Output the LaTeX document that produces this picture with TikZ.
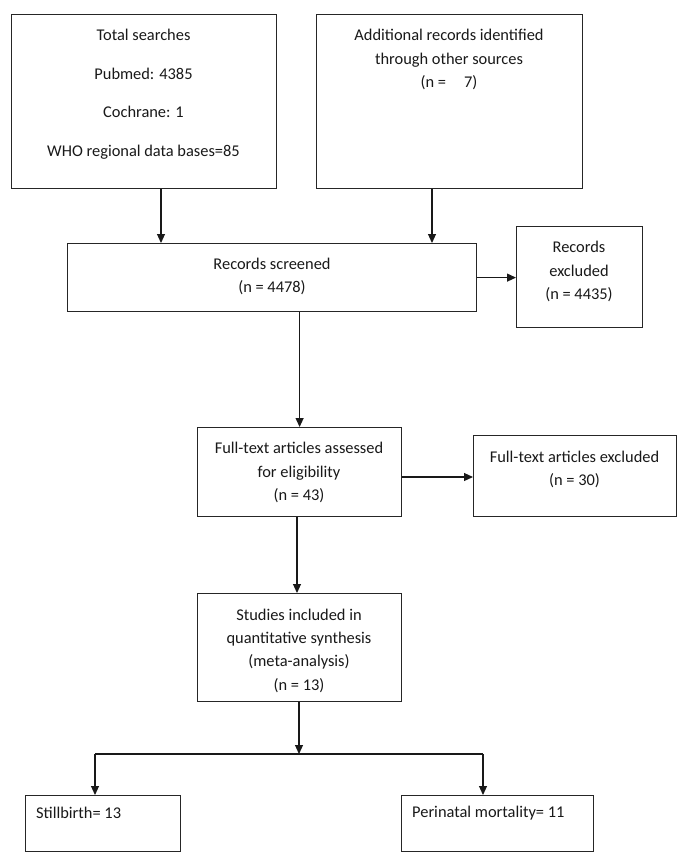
\documentclass[tikz,border=0pt]{standalone}
\usepackage{fontspec}
\setmainfont{Carlito}
\usetikzlibrary{arrows.meta}
\begin{document}
\begin{tikzpicture}[x=1pt,y=-1pt,
  box/.style={draw=black!85, line width=1.2pt, inner sep=0pt, anchor=north west},
  txt/.style={align=center, inner sep=0pt, text=black!90, font=\fontsize{16.4}{23.3}\selectfont},
  arr/.style={draw=black!90, line width=1.1pt, -{Triangle[length=9pt,width=8pt]}},
  ln/.style={draw=black!90, line width=1.1pt}]
\useasboundingbox (0,0) rectangle (685,857);
\fill[white] (0,0) rectangle (685,857);
% boxes
\node[box, minimum width=265pt, minimum height=174pt] (b1) at (11,14) {};
\node[box, minimum width=266pt, minimum height=174pt] (b2) at (316,14) {};
\node[box, minimum width=409pt, minimum height=68pt] (scr) at (67,243) {};
\node[box, minimum width=126pt, minimum height=101pt] (exc) at (516,226) {};
\node[box, minimum width=204pt, minimum height=89pt] (ass) at (197,427) {};
\node[box, minimum width=203pt, minimum height=81pt] (fte) at (473,435) {};
\node[box, minimum width=204pt, minimum height=108pt] (st) at (197,593) {};
\node[box, minimum width=155pt, minimum height=56pt] (sb) at (25,795) {};
\node[box, minimum width=192pt, minimum height=56pt] (pm) at (401,795) {};
% texts
\node[txt] (t1) at (143.5,94) {Total searches\\[15.2pt] Pubmed: 4385\\[15.2pt] Cochrane: 1\\[15.2pt] WHO regional data bases=85};
\node[txt] (t2) at (449,59.5) {Additional records identified\\ through other sources\\ (n =\hspace{1.1em}7)};
\node[txt] (t3) at (272,276.5) {Records screened\\ (n = 4478)};
\node[txt] (t4) at (579,271.5) {Records\\ excluded\\ (n = 4435)};
\node[txt] (t5) at (299,472.5) {Full-text articles assessed\\ for eligibility\\ (n = 43)};
\node[txt] (t6) at (574.5,469.5) {Full-text articles excluded\\ (n = 30)};
\node[txt] (t7) at (299,650.5) {Studies included in\\ quantitative synthesis\\ (meta-analysis)\\ (n = 13)};
\node[txt, anchor=west] (t8) at (36,813) {Stillbirth= 13};
\node[txt, anchor=west] (t9) at (412,813) {Perinatal mortality= 11};
% connector helpers
\coordinate (c161) at (161,0);
\coordinate (c432) at (432,0);
\coordinate (c477) at (0,477);
\coordinate (c297) at (297,0);
\coordinate (br) at (299,754);
\coordinate (bl) at (95,754);
\coordinate (brr) at (483,754);
% connectors
\draw[arr] (b1.south -| c161) -- (scr.north -| c161);
\draw[arr] (b2.south -| c432) -- (scr.north -| c432);
\draw[arr] (scr.east) -- (scr.east -| exc.west);
\draw[arr] (scr.south -| ass.north) -- (ass.north);
\draw[arr] (ass.east |- c477) -- (fte.west |- c477);
\draw[arr] (ass.south -| c297) -- (st.north -| c297);
\draw[arr] (st.south -| br) -- (br);
\draw[ln] (bl) -- (brr);
\draw[arr] (bl) -- (sb.north -| bl);
\draw[arr] (brr) -- (pm.north -| brr);
\end{tikzpicture}
\end{document}
